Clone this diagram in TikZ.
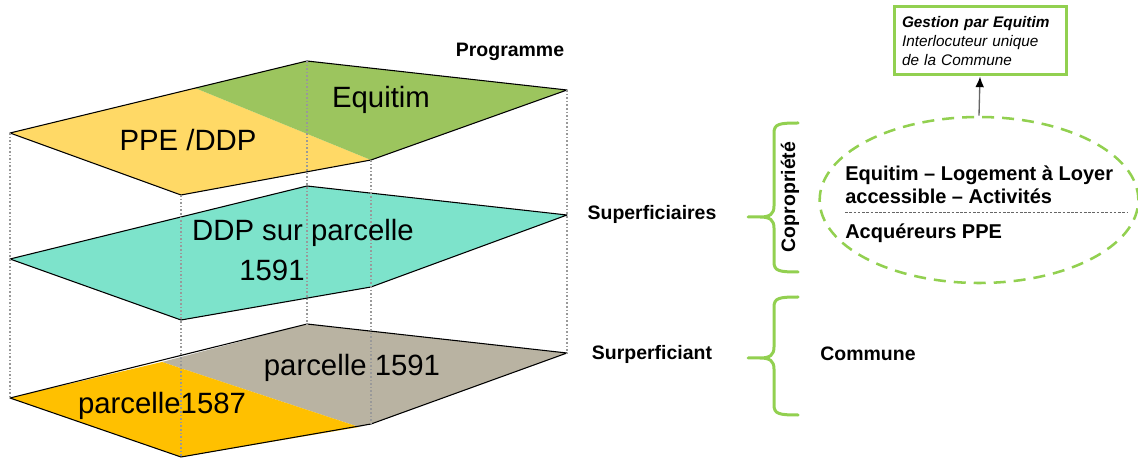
\documentclass[tikz,border=0pt]{standalone}
\usepackage{fontspec}
\setmainfont{Liberation Sans}
\usetikzlibrary{shapes.geometric, arrows.meta}

\definecolor{ppeyellow}{HTML}{FFD966}
\definecolor{equigreen}{HTML}{9CC55E}
\definecolor{ddpteal}{HTML}{7DE3CB}
\definecolor{parcgray}{HTML}{B9B3A2}
\definecolor{parcorange}{HTML}{FFC000}
\definecolor{bracegreen}{HTML}{92D050}

\begin{document}
\begin{tikzpicture}[
    x=0.75pt, y=-0.75pt,
    every node/.style={inner sep=0pt},
    plane/.style={draw=black, line width=0.8pt, line join=round},
    guide/.style={draw=black!40, dash pattern=on 1.2pt off 1.5pt, line width=0.8pt},
    planetext/.style={font=\fontsize{22}{26}\selectfont},
    levellabel/.style={font=\fontsize{14.6}{17}\selectfont\bfseries},
    bracepath/.style={draw=bracegreen, line width=2.25pt, line cap=round},
    grouptext/.style={font=\fontsize{15}{17.3}\selectfont\bfseries, anchor=west, align=left},
  ]
    \useasboundingbox (0,0) rectangle (1138,459);

    % Plane vertices (pixel grid of the slide)
    \coordinate (tL) at (10,133);  \coordinate (tT) at (307,61);
    \coordinate (tR) at (567,90);  \coordinate (tBR) at (371,160);
    \coordinate (tB) at (181,195); \coordinate (tS) at (195,88);

    \coordinate (mL) at (10,259);  \coordinate (mT) at (307,186);
    \coordinate (mR) at (567,215); \coordinate (mBR) at (371,287);
    \coordinate (mB) at (181,320);

    \coordinate (bL) at (10,398);  \coordinate (bT) at (307,324);
    \coordinate (bR) at (567,353); \coordinate (bBR) at (371,424);
    \coordinate (bB) at (181,457); \coordinate (bS) at (162,362);
    \coordinate (bC) at (359,427);

    % Programme plane
    \fill[ppeyellow] (tL) -- (tS) -- (tBR) -- (tB) -- cycle;
    \fill[equigreen] (tS) -- (tT) -- (tR) -- (tBR) -- cycle;
    \draw[plane] (tL) -- (tT) -- (tR) -- (tBR) -- (tB) -- cycle;

    % Superficiaires plane
    \draw[plane, fill=ddpteal] (mL) -- (mT) -- (mR) -- (mBR) -- (mB) -- cycle;

    % Superficiant plane
    \fill[parcgray] (bS) -- (bT) -- (bR) -- (bBR) -- (bC) -- cycle;
    \fill[parcorange] (bL) -- (bS) -- (bC) -- (bB) -- cycle;
    \draw[plane] (bL) -- (bT) -- (bR) -- (bBR) -- (bB) -- cycle;

    % Vertical guides
    \foreach \v in {L,T,R,BR,B} {
      \draw[guide] (t\v) -- (b\v);
    }

    % Plane texts
    \node[planetext] (ppe) at (188,140) {PPE /DDP};
    \node[planetext] (equitim) at (381,100) {Equitim};
    \node[planetext] (ddpa) at (303,233) {DDP sur parcelle};
    \node[planetext] (ddpb) at (272,270) {1591};
    \node[planetext] (p1591) at (352,368) {parcelle 1591};
    \node[planetext] (p1587) at (162,406) {parcelle1587};

    % Level labels
    \node[levellabel] (programme) at (510,52) {Programme};
    \node[levellabel] (superficiaires) at (652,214) {Superficiaires};
    \node[levellabel] (superficiant) at (652,354) {Surperficiant};

    % Braces
    \draw[bracepath] (798,123) .. controls (779,123) and (774,124) .. (774,133)
      -- (774,206) .. controls (774,214) and (770,217) .. (760,217) -- (748,217)
      (760,217) .. controls (770,217) and (774,220) .. (774,228)
      -- (774,262) .. controls (774,271) and (779,272) .. (798,272);
    \draw[bracepath] (798,297) .. controls (779,297) and (774,298) .. (774,307)
      -- (774,347) .. controls (774,355) and (770,358) .. (760,358) -- (748,358)
      (760,358) .. controls (770,358) and (774,361) .. (774,369)
      -- (774,405) .. controls (774,414) and (779,415) .. (798,415);

    \node[levellabel, rotate=90] (copro) at (790,197) {Copropriété};
    \node[levellabel] (commune) at (868,354) {Commune};

    % Copropriete group
    \node[ellipse, draw=bracegreen, line width=1.9pt, dash pattern=on 9pt off 6pt,
          minimum width=239pt, minimum height=124.5pt] (copro group) at (979,200) {};
    \node[grouptext] (group equitim) at (845,185)
      {Equitim – Logement à Loyer\\accessible – Activités};
    \node[grouptext] (group ppe) at (845,233) {Acquéreurs PPE};
    \draw[black!60, dash pattern=on 2pt off 1.2pt, line width=0.6pt] (845,212) -- (1128,212);

    % Gestion
    \node[draw=bracegreen, line width=2.25pt, fill=white, align=left,
          font=\fontsize{11.5}{14.2}\selectfont\itshape,
          text width=117pt, inner xsep=6pt, minimum height=51pt] (gestion) at (980,41)
      {\textbf{Gestion par Equitim}\\Interlocuteur unique\\de la Commune};
    \draw[black!60, line width=1pt, -{Latex[length=8pt, width=6.5pt, black]}]
      (copro group.north) -- (gestion.south);
\end{tikzpicture}
\end{document}
